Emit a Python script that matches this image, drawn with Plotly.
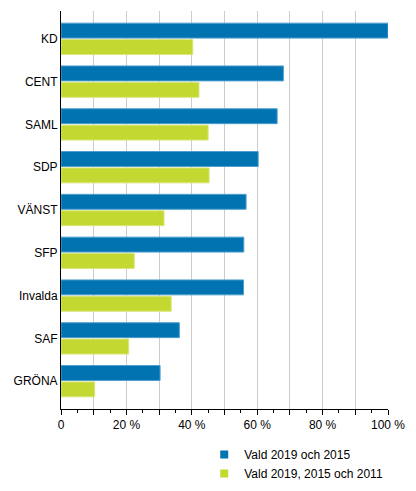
import plotly.graph_objects as go

parties = ["KD", "CENT", "SAML", "SDP", "VÄNST", "SFP", "Invalda", "SAF", "GRÖNA"]
vald_2019_2015 = [100.0, 68.0, 66.1, 60.3, 56.6, 55.9, 55.8, 36.2, 30.3]
vald_2019_2015_2011 = [40.3, 42.2, 45.0, 45.3, 31.5, 22.4, 33.7, 20.7, 10.3]
series_names = ["Vald 2019 och 2015", "Vald 2019, 2015 och 2011"]
colors = ["#0073b0", "#c3d830"]
edge_colors = ["#4d9fd0", "#d9e67a"]

tick_vals = list(range(0, 101, 10))
tick_text = ["0" if v == 0 else (f"{v} %" if v % 20 == 0 else "") for v in tick_vals]

fig = go.Figure()
for vals, name, col, edge in zip([vald_2019_2015, vald_2019_2015_2011], series_names, colors, edge_colors):
    fig.add_trace(go.Bar(
        y=parties, x=vals, orientation="h", name=name, showlegend=False,
        marker=dict(color=col, line=dict(color=edge, width=1)),
    ))
# small square legend keys
for name, col in zip(series_names, colors):
    fig.add_trace(go.Scatter(
        x=[None], y=[None], mode="markers", name=name,
        marker=dict(symbol="square", size=8, color=col),
    ))

# page body has an 8px margin, so the figure is a bit smaller than the window
fig.update_layout(
    width=408, height=483,
    margin=dict(l=53, r=28, t=3, b=80),
    paper_bgcolor="white", plot_bgcolor="white",
    barmode="group", bargap=0.234, bargroupgap=0.09,
    font=dict(family="Liberation Sans, Arial, sans-serif", size=12, color="#000000"),
    legend=dict(x=0.438, y=-0.078, xanchor="left", yanchor="top",
                traceorder="normal", font=dict(size=12), itemwidth=30,
                tracegroupgap=0),
    showlegend=True,
)
fig.update_xaxes(
    range=[0, 100], tickvals=tick_vals, ticktext=tick_text,
    showgrid=True, gridcolor="#cccccc", gridwidth=1,
    ticks="outside", ticklen=5, tickcolor="#000000",
    minor=dict(dtick=5, ticks="outside", ticklen=3, tickcolor="#000000", showgrid=False),
    showline=True, linecolor="#000000", zeroline=False, automargin=False,
)
fig.update_yaxes(
    categoryorder="array", categoryarray=parties,
    range=[8.65, -0.65], showline=True, linecolor="#000000",
    ticks="", ticklen=0, showgrid=False, automargin=False,
)

fig.write_html("out.html")
